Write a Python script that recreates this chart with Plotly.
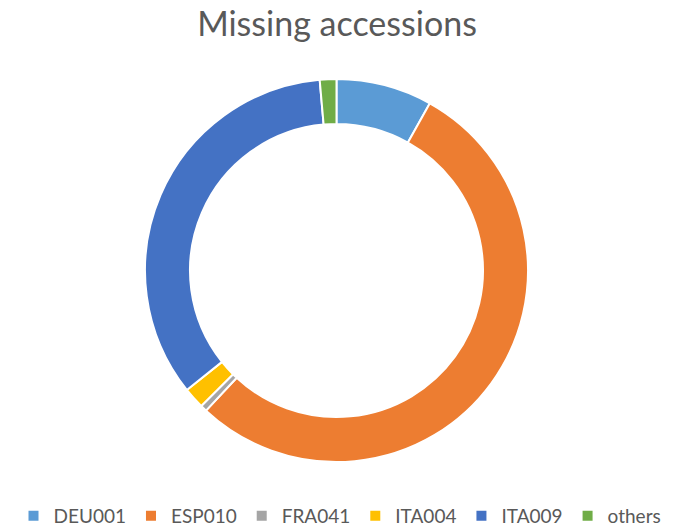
import plotly.graph_objects as go

labels = ["DEU001", "ESP010", "FRA041", "ITA004", "ITA009", "others"]
values = [8.1, 53.8, 0.55, 1.8, 34.3, 1.4]
colors = ["#5B9BD5", "#ED7D31", "#A5A5A5", "#FFC000", "#4472C4", "#70AD47"]

W, H = 673, 526
OFF = 8  # default page body margin
cx, cy, r = 336.5 - OFF, 270.5 - OFF, 191.5

fig = go.Figure(
    go.Pie(
        labels=labels,
        values=values,
        hole=0.765,
        sort=False,
        direction="clockwise",
        rotation=0,
        textinfo="none",
        marker=dict(colors=colors, line=dict(color="white", width=2)),
        domain=dict(
            x=[(cx - r) / W, (cx + r) / W],
            y=[(H - cy - r) / H, (H - cy + r) / H],
        ),
    )
)

fig.update_layout(
    width=W,
    height=H,
    margin=dict(l=0, r=0, t=0, b=0, autoexpand=False),
    paper_bgcolor="white",
    font=dict(family="Lato, 'Open Sans', sans-serif", color="#595959"),
    title=dict(
        text="Missing accessions",
        x=(337 - OFF) / W,
        xanchor="center",
        y=1 - (24 - OFF) / H,
        yanchor="middle",
        font=dict(size=34, color="#595959"),
    ),
    legend=dict(
        orientation="h",
        x=(340 - OFF) / W,
        xanchor="center",
        y=(H - (516 - OFF)) / H,
        yanchor="middle",
        font=dict(size=19, color="#595959"),
        itemwidth=30,
    ),
)

fig.write_html("out.html")
